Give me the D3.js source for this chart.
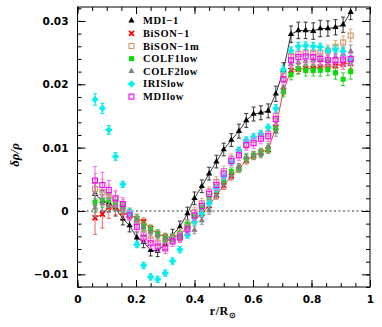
<!DOCTYPE html>
<html>
<head>
<meta charset="utf-8">
<script src="https://cdn.jsdelivr.net/npm/d3@7"></script>
<style>
  body { margin: 0; background: #fff; }
  svg { display: block; }
</style>
</head>
<body>
<script>
// fractional radius shared by all data sets
var radius = [0.06, 0.085, 0.107, 0.13, 0.155, 0.178, 0.203, 0.226, 0.25, 0.274, 0.3, 0.325,
              0.35, 0.376, 0.4, 0.425, 0.45, 0.475, 0.5, 0.526, 0.552, 0.577, 0.602, 0.627,
              0.652, 0.678, 0.704, 0.73, 0.755, 0.78, 0.806, 0.83, 0.856, 0.882, 0.908, 0.934];

var mdi1 = [0.0027, 0.0016, 0.0013, 0.0004, -0.0012, -0.0023, -0.0042, -0.0049, -0.0062, -0.0063, -0.0052, -0.0038,
            -0.0025, -0.0004, 0.002, 0.0039, 0.0059, 0.0078, 0.0097, 0.0112, 0.0126, 0.0143, 0.0153, 0.0155,
            0.0158, 0.0185, 0.0222, 0.0279, 0.0285, 0.0285, 0.0284, 0.0288, 0.0288, 0.029, 0.0294, 0.0314];
var bison1 = [-0.0011, -0.0005, 0.0006, 0.0006, -0.0002, -0.0006, -0.0012, -0.0017, -0.0028, -0.0036, -0.0041, -0.0042,
              -0.0038, -0.0025, -0.0014, -0.0004, 0.0009, 0.0025, 0.004, 0.0055, 0.0067, 0.008, 0.0087, 0.0093,
              0.0097, 0.0132, 0.019, 0.0222, 0.0224, 0.0225, 0.0225, 0.0227, 0.0228, 0.0229, 0.0232, 0.0233];
var bison1m = [0.0035, 0.003, 0.0025, 0.0018, 0.0008, -0.0004, -0.0018, -0.0035, -0.0045, -0.005, -0.0052, -0.0045,
               -0.0036, -0.0022, -0.0002, 0.0012, 0.003, 0.0046, 0.0063, 0.0082, 0.0092, 0.0106, 0.0112, 0.0118,
               0.0122, 0.015, 0.0215, 0.0245, 0.0248, 0.025, 0.025, 0.025, 0.0253, 0.0259, 0.0266, 0.0277];
var colf1 = [0.0014, 0.0018, 0.0017, 0.001, 0.0006, -0.0003, -0.0012, -0.0023, -0.0029, -0.0036, -0.0042, -0.0042,
             -0.0038, -0.0022, -0.0009, 0.0005, 0.002, 0.0035, 0.0048, 0.0062, 0.0067, 0.0083, 0.0088, 0.0092,
             0.0098, 0.013, 0.0188, 0.0215, 0.0225, 0.0222, 0.0222, 0.0222, 0.0223, 0.0218, 0.0208, 0.022];
var colf2 = [0.0005, 0.0012, 0.0008, 0.0008, 0.0003, -0.0006, -0.0015, -0.0026, -0.0033, -0.0038, -0.0044, -0.0044,
             -0.0042, -0.0035, -0.003, -0.0015, 0.0001, 0.0025, 0.0043, 0.0056, 0.0069, 0.0085, 0.0088, 0.009,
             0.0101, 0.0125, 0.0195, 0.0232, 0.0235, 0.0237, 0.0238, 0.0238, 0.0238, 0.0243, 0.0248, 0.0252];
var iris = [0.0176, 0.0162, 0.0128, 0.0086, 0.0042, -0.0002, -0.0053, -0.0086, -0.0104, -0.0108, -0.0098, -0.0079,
            -0.0061, -0.0038, -0.0017, -0.0004, 0.0012, 0.0035, 0.0054, 0.0077, 0.0096, 0.0112, 0.0117, 0.0122,
            0.0132, 0.0162, 0.0223, 0.0253, 0.026, 0.0261, 0.026, 0.0259, 0.0253, 0.0255, 0.0252, 0.0238];
var mdilow = [0.0048, 0.0041, 0.0033, 0.002, 0.0011, -0.0007, -0.0025, -0.0042, -0.0051, -0.0056, -0.0059, -0.0048,
              -0.0042, -0.0029, -0.0007, 0.0008, 0.0027, 0.0041, 0.0059, 0.0079, 0.0088, 0.0104, 0.0107, 0.0114,
              0.0118, 0.0145, 0.0208, 0.0238, 0.0243, 0.0244, 0.0243, 0.024, 0.0238, 0.0238, 0.0239, 0.024];

// error bars (half length)
var errMdi1 = [0.0018, 0.0016, 0.0014, 0.0012, 0.001, 0.001, 0.0009, 0.0009, 0.0009, 0.0009, 0.0009, 0.0009,
               0.0009, 0.001, 0.001, 0.001, 0.001, 0.001, 0.001, 0.001, 0.0011, 0.0011, 0.0011, 0.0011,
               0.0011, 0.0012, 0.0012, 0.0013, 0.0013, 0.0013, 0.0013, 0.0013, 0.0012, 0.0012, 0.0012, 0.0012];
var errBison1 = [0.0026, 0.0022, 0.0018, 0.0012, 0.001, 0.0008, 0.0007, 0.0006, 0.0006, 0.0006, 0.0006, 0.0006,
                 0.0006, 0.0006, 0.0006, 0.0006, 0.0006, 0.0006, 0.0006, 0.0006, 0.0006, 0.0006, 0.0006, 0.0006,
                 0.0006, 0.0007, 0.0007, 0.0007, 0.0007, 0.0007, 0.0007, 0.0007, 0.0007, 0.0007, 0.0008, 0.0008];
var errBison1m = [0.0024, 0.002, 0.0016, 0.0012, 0.001, 0.0009, 0.0008, 0.0008, 0.0008, 0.0008, 0.0008, 0.0008,
                  0.0008, 0.0008, 0.0008, 0.0008, 0.0008, 0.0008, 0.0008, 0.0008, 0.0008, 0.0008, 0.0008, 0.0008,
                  0.0008, 0.0009, 0.0009, 0.0009, 0.0009, 0.0009, 0.0009, 0.0009, 0.0009, 0.001, 0.001, 0.001];
var errColf1 = [0.0016, 0.0012, 0.001, 0.0008, 0.0007, 0.0006, 0.0006, 0.0006, 0.0006, 0.0006, 0.0006, 0.0006,
                0.0006, 0.0006, 0.0006, 0.0006, 0.0006, 0.0006, 0.0006, 0.0006, 0.0006, 0.0006, 0.0006, 0.0006,
                0.0006, 0.0007, 0.0008, 0.0008, 0.0009, 0.0009, 0.0009, 0.0009, 0.0009, 0.001, 0.001, 0.0012];
var errColf2 = [0.0014, 0.0012, 0.001, 0.0008, 0.0007, 0.0006, 0.0006, 0.0006, 0.0006, 0.0006, 0.0006, 0.0006,
                0.0006, 0.0006, 0.0006, 0.0006, 0.0006, 0.0006, 0.0006, 0.0006, 0.0006, 0.0006, 0.0006, 0.0006,
                0.0006, 0.0007, 0.0008, 0.0008, 0.0008, 0.0008, 0.0008, 0.0008, 0.0008, 0.0009, 0.0009, 0.001];
var errIris = [0.0009, 0.0008, 0.0007, 0.0006, 0.0005, 0.0005, 0.0005, 0.0005, 0.0005, 0.0005, 0.0005, 0.0005,
               0.0005, 0.0005, 0.0005, 0.0005, 0.0005, 0.0005, 0.0005, 0.0005, 0.0005, 0.0005, 0.0005, 0.0005,
               0.0005, 0.0006, 0.0006, 0.0006, 0.0006, 0.0006, 0.0006, 0.0006, 0.0006, 0.0006, 0.0007, 0.0007];
var errMdilow = [0.0022, 0.002, 0.0015, 0.0012, 0.001, 0.0008, 0.0008, 0.0008, 0.0008, 0.0008, 0.0008, 0.0008,
                 0.0008, 0.0008, 0.0008, 0.0008, 0.0008, 0.0008, 0.0008, 0.0008, 0.0008, 0.0008, 0.0008, 0.0008,
                 0.0008, 0.0009, 0.0009, 0.0009, 0.0009, 0.0009, 0.0009, 0.0009, 0.0009, 0.0009, 0.0009, 0.0009];

var seriesNames = ["MDI\u22121", "BiSON\u22121", "BiSON\u22121m", "COLF1low", "COLF2low", "IRISlow", "MDIlow"];
var xTicks = [0, 0.2, 0.4, 0.6, 0.8, 1];
var yTicks = [-0.01, 0, 0.01, 0.02, 0.03];

var series = [
  { name: seriesNames[0], v: mdi1, e: errMdi1, color: "#000000", bar: "#333333", shape: "tri", line: true },
  { name: seriesNames[1], v: bison1, e: errBison1, color: "#ff0000", bar: "#f06060", shape: "x", line: true },
  { name: seriesNames[2], v: bison1m, e: errBison1m, color: "#d29560", bar: "#e0aa80", shape: "osq" },
  { name: seriesNames[3], v: colf1, e: errColf1, color: "#00e000", bar: "#30d030", shape: "sq" },
  { name: seriesNames[4], v: colf2, e: errColf2, color: "#808080", bar: "#909090", shape: "tri" },
  { name: seriesNames[5], v: iris, e: errIris, color: "#00f0f0", bar: "#00e0e0", shape: "star" },
  { name: seriesNames[6], v: mdilow, e: errMdilow, color: "#ff00ff", bar: "#ff60ff", shape: "osq" }
];

var W = 382, H = 327;
var pLeft = 77.5, pRight = 370, pTop = 7, pBottom = 287;

var svg = d3.select("body").append("svg")
    .attr("width", W)
    .attr("height", H);

var x = d3.scaleLinear().domain([0, 1]).range([pLeft, pRight]);
var y = d3.scaleLinear().domain([-0.012, 0.0322]).range([pBottom, pTop]);

svg.append("clipPath").attr("id", "plot")
  .append("rect").attr("x", pLeft).attr("y", pTop)
  .attr("width", pRight - pLeft).attr("height", pBottom - pTop);

// zero line
svg.append("line")
    .attr("x1", pLeft).attr("x2", pRight)
    .attr("y1", y(0)).attr("y2", y(0))
    .attr("stroke", "#777").attr("stroke-width", 1.3)
    .attr("stroke-dasharray", "2,2.5");

var plot = svg.append("g").attr("clip-path", "url(#plot)");

function drawMarker(g, shape, color, cx, cy) {
  if (shape === "tri") {
    g.append("path").attr("d", d3.symbol(d3.symbolTriangle, 17)())
      .attr("transform", "translate(" + cx + "," + cy + ")")
      .attr("fill", color);
  } else if (shape === "sq") {
    g.append("rect").attr("x", cx - 2.5).attr("y", cy - 2.5)
      .attr("width", 5).attr("height", 5).attr("fill", color);
  } else if (shape === "osq") {
    g.append("rect").attr("x", cx - 2.5).attr("y", cy - 2.5)
      .attr("width", 5).attr("height", 5)
      .attr("fill", "none").attr("stroke", color).attr("stroke-width", 1.1);
  } else if (shape === "x") {
    g.append("path").attr("d", d3.symbol(d3.symbolTimes, 18)())
      .attr("transform", "translate(" + cx + "," + cy + ")")
      .attr("fill", "none").attr("stroke", color).attr("stroke-width", 1.8);
  } else if (shape === "star") {
    g.append("rect").attr("x", cx - 2).attr("y", cy - 2)
      .attr("width", 4).attr("height", 4).attr("fill", color);
    g.append("path").attr("d", d3.symbol(d3.symbolCross, 24)())
      .attr("transform", "translate(" + cx + "," + cy + ")")
      .attr("fill", color);
  }
}

series.forEach(function(s) {
  var pts = radius.map(function(r, i) { return { r: r, v: s.v[i], e: s.e[i] }; });
  var g = plot.append("g");

  // error bars with caps
  pts.forEach(function(d) {
    var cx = x(d.r);
    g.append("line")
      .attr("x1", cx).attr("x2", cx)
      .attr("y1", y(d.v - d.e)).attr("y2", y(d.v + d.e))
      .attr("stroke", s.bar).attr("stroke-width", 1);
    [d.v - d.e, d.v + d.e].forEach(function(ev) {
      g.append("line")
        .attr("x1", cx - 2).attr("x2", cx + 2)
        .attr("y1", y(ev)).attr("y2", y(ev))
        .attr("stroke", s.bar).attr("stroke-width", 1);
    });
  });

  if (s.line) {
    g.append("path")
      .datum(pts)
      .attr("d", d3.line().x(function(d) { return x(d.r); }).y(function(d) { return y(d.v); }))
      .attr("fill", "none")
      .attr("stroke", s.color)
      .attr("stroke-width", 0.8);
  }

  pts.forEach(function(d) { drawMarker(g, s.shape, s.color, x(d.r), y(d.v)); });
});

// axes: ticks point inward on all four sides
function ticksFrom(a, b, step) {
  var out = [];
  for (var t = a; t <= b + 1e-9; t += step) out.push(+t.toFixed(4));
  return out;
}
var xMinor = ticksFrom(0, 1, 0.05);
var yMinor = ticksFrom(-0.012, 0.032, 0.002);

function axisGroup(axis, tx, ty) {
  var g = svg.append("g").attr("transform", "translate(" + tx + "," + ty + ")").call(axis);
  g.select(".domain").remove();
  g.selectAll("line").attr("stroke", "#000");
  return g;
}

// bottom
axisGroup(d3.axisBottom(x).tickValues(xMinor).tickSize(-4).tickFormat(""), 0, pBottom);
var xb = axisGroup(d3.axisBottom(x).tickValues(xTicks).tickSize(-7).tickPadding(9)
    .tickFormat(function(d) { return d === 0 || d === 1 ? d : d.toFixed(1); }), 0, pBottom);
// top
axisGroup(d3.axisTop(x).tickValues(xMinor).tickSize(-4).tickFormat(""), 0, pTop);
axisGroup(d3.axisTop(x).tickValues(xTicks).tickSize(-7).tickFormat(""), 0, pTop);
// left
axisGroup(d3.axisLeft(y).tickValues(yMinor).tickSize(-4).tickFormat(""), pLeft, 0);
var yl = axisGroup(d3.axisLeft(y).tickValues(yTicks).tickSize(-8).tickPadding(9)
    .tickFormat(function(d) { return d === 0 ? "0" : d.toFixed(2).replace("-", "\u2212"); }), pLeft, 0);
// right
axisGroup(d3.axisRight(y).tickValues(yMinor).tickSize(-4).tickFormat(""), pRight, 0);
axisGroup(d3.axisRight(y).tickValues(yTicks).tickSize(-8).tickFormat(""), pRight, 0);

[xb, yl].forEach(function(g) {
  g.selectAll("text")
    .style("font-family", "'DejaVu Sans', sans-serif")
    .style("font-size", "10.5px")
    .style("font-weight", "bold")
    .attr("fill", "#000");
});

// frame
svg.append("rect")
    .attr("x", pLeft).attr("y", pTop)
    .attr("width", pRight - pLeft).attr("height", pBottom - pTop)
    .attr("fill", "none").attr("stroke", "#000").attr("stroke-width", 1);

// axis titles
var xTitle = svg.append("text")
    .attr("x", 223)
    .attr("y", 315)
    .attr("text-anchor", "middle")
    .style("font-family", "'Liberation Serif', 'Times New Roman', serif")
    .style("font-size", "12px")
    .style("font-weight", "bold")
    .style("letter-spacing", "0.5px");
xTitle.append("tspan").text("r/R");
xTitle.append("tspan").attr("dy", 3).style("font-size", "8px").text("\u2299");

svg.append("text")
    .attr("transform", "translate(19," + 155 + ") rotate(-90)")
    .attr("text-anchor", "middle")
    .style("font-family", "'Liberation Serif', 'Times New Roman', serif")
    .style("font-size", "13px")
    .style("font-style", "italic")
    .style("font-weight", "bold")
    .text("\u03b4\u03c1/\u03c1");

// legend
var legend = svg.append("g");
series.forEach(function(s, i) {
  var ly = 20.7 + i * 12.65;
  drawMarker(legend, s.shape, s.color, 131.5, ly);
  legend.append("text")
    .attr("x", 143)
    .attr("y", ly + 3.5)
    .style("font-family", "'Liberation Serif', 'Times New Roman', serif")
    .style("font-size", "10.5px")
    .style("font-weight", "bold")
    .style("letter-spacing", "0.6px")
    .text(s.name);
});
</script>
</body>
</html>
